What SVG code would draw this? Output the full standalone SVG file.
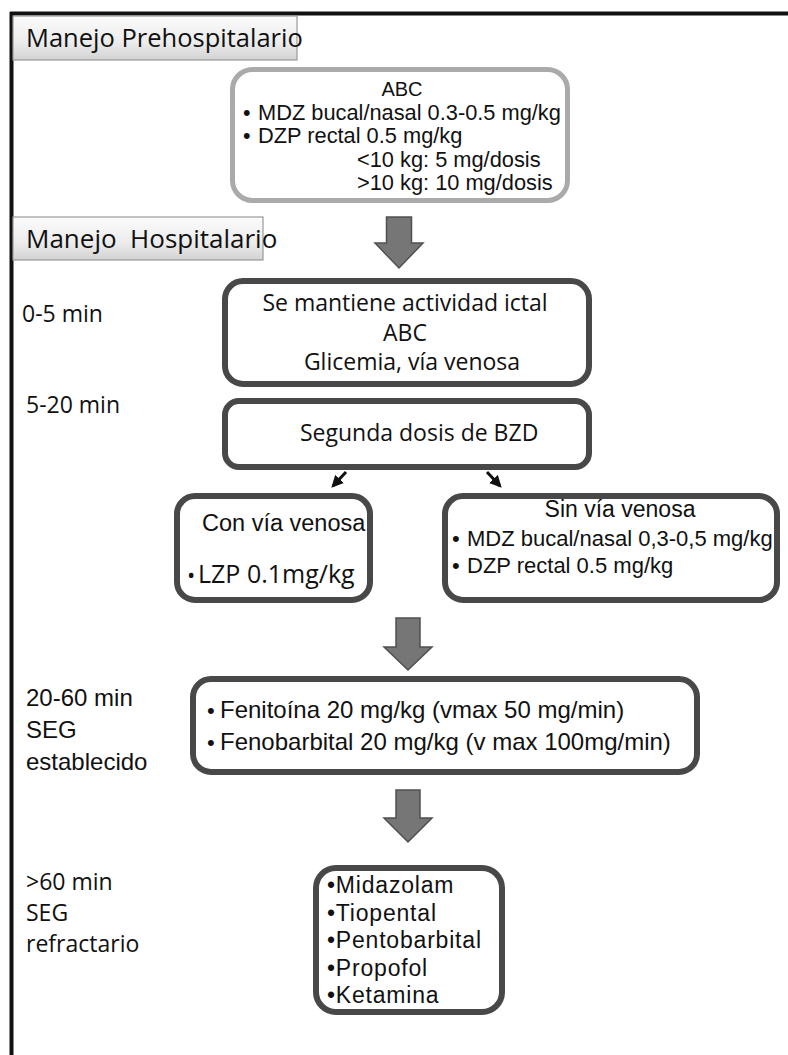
<svg xmlns="http://www.w3.org/2000/svg" width="788" height="1055" viewBox="0 0 788 1055">
<defs>
<linearGradient id="hdr" x1="0" y1="0" x2="0" y2="1">
<stop offset="0" stop-color="#fbfbfb"/>
<stop offset="0.6" stop-color="#ececec"/>
<stop offset="1" stop-color="#d2d2d2"/>
</linearGradient>
<marker id="ah" viewBox="0 0 10 10" refX="8" refY="5" markerWidth="4" markerHeight="4" orient="auto">
<path d="M0,0 L10,5 L0,10 Z" fill="#111"/>
</marker>
<style>
.frame{stroke:#111;stroke-width:4;fill:none}
.hdr{fill:url(#hdr);stroke:#9a9a9a;stroke-width:1.2}
.box{fill:#fff;stroke:#484848;stroke-width:6}
.gbox{fill:#fff;stroke:#aaaaaa;stroke-width:5}
.blk{fill:#767676;stroke:#505050;stroke-width:1.5}
.thin{stroke:#111;stroke-width:3;fill:none}
text{fill:#111}
.os{font-family:"Open Sans","Noto Sans",sans-serif}
.ls{font-family:"Liberation Sans",Arial,sans-serif}
</style>
</defs>
<rect width="788" height="1055" fill="#fff"/>
<g id="frame">
<line class="frame" x1="10" y1="13.5" x2="788" y2="13.5"/>
<line class="frame" x1="11.5" y1="12" x2="11.5" y2="1055"/>
</g>
<g id="hdr-pre">
<rect class="hdr" x="13" y="16" width="284" height="44"/>
<text class="os" x="26" y="47" font-size="25.5">Manejo Prehospitalario</text>
</g>
<g id="hdr-hosp">
<rect class="hdr" x="13" y="217" width="250" height="43"/>
<text class="os" x="26" y="248" font-size="26" xml:space="preserve">Manejo  Hospitalario</text>
</g>
<g id="times">
<text class="os" x="22" y="322" font-size="23">0-5 min</text>
<text class="os" x="26" y="413" font-size="23">5-20 min</text>
<text class="ls" x="26" y="706" font-size="24">20-60 min</text>
<text class="ls" x="26" y="738" font-size="24">SEG</text>
<text class="ls" x="26" y="770" font-size="24">establecido</text>
<text class="os" x="26" y="890" font-size="23">&gt;60 min</text>
<text class="os" x="26" y="921" font-size="23">SEG</text>
<text class="os" x="26" y="952" font-size="23">refractario</text>
</g>
<g id="connectors">
<polygon class="blk" points="386.5,217 411.5,217 411.5,243 423,243 399,268 375,243 386.5,243"/>
<line class="thin" x1="346" y1="472" x2="333" y2="486" marker-end="url(#ah)"/>
<line class="thin" x1="487" y1="472" x2="500" y2="486" marker-end="url(#ah)"/>
<polygon class="blk" points="396,618 420,618 420,647 432,647 408,670 384,647 396,647"/>
<polygon class="blk" points="396,790 420,790 420,818 432,818 408,842 384,818 396,818"/>
</g>
<g id="n-prehosp">
<rect class="gbox" x="232.5" y="69.5" width="335" height="131" rx="20"/>
<text class="ls" x="402" y="96" font-size="20" text-anchor="middle">ABC</text>
<text class="ls" x="243" y="120" font-size="21.5">•</text>
<text class="ls" x="258" y="120" font-size="21.8">MDZ bucal/nasal 0.3-0.5 mg/kg</text>
<text class="ls" x="243" y="143" font-size="21.5">•</text>
<text class="ls" x="258" y="143" font-size="21.8">DZP rectal 0.5 mg/kg</text>
<text class="ls" x="357" y="167" font-size="21.8">&lt;10 kg: 5 mg/dosis</text>
<text class="ls" x="357" y="190" font-size="21.8">&gt;10 kg: 10 mg/dosis</text>
</g>
<g id="n-ictal">
<rect class="box" x="225" y="281" width="364" height="103" rx="18"/>
<text class="os" x="405" y="311" font-size="23" text-anchor="middle">Se mantiene actividad ictal</text>
<text class="os" x="405" y="341" font-size="23" text-anchor="middle">ABC</text>
<text class="os" x="412" y="370" font-size="23" text-anchor="middle">Glicemia, vía venosa</text>
</g>
<g id="n-bzd">
<rect class="box" x="225" y="401" width="364" height="66" rx="14"/>
<text class="os" x="300" y="441" font-size="23">Segunda dosis de BZD</text>
</g>
<g id="n-con">
<rect class="box" x="177" y="496" width="193" height="104" rx="18"/>
<text class="ls" x="202" y="531" font-size="23.5">Con vía venosa</text>
<text class="os" x="187" y="583" font-size="22">•</text>
<text class="os" x="198" y="583" font-size="25">LZP 0.1mg/kg</text>
</g>
<g id="n-sin">
<rect class="box" x="445" y="496" width="332" height="104" rx="18"/>
<text class="ls" x="620" y="517" font-size="23" text-anchor="middle">Sin vía venosa</text>
<text class="ls" x="452" y="546" font-size="22">•</text>
<text class="ls" x="467" y="546" font-size="22">MDZ bucal/nasal 0,3-0,5 mg/kg</text>
<text class="ls" x="452" y="573" font-size="22">•</text>
<text class="ls" x="467" y="573" font-size="22">DZP rectal 0.5 mg/kg</text>
</g>
<g id="n-established">
<rect class="box" x="193" y="679" width="504" height="93" rx="18"/>
<text class="ls" x="207" y="718" font-size="22">•</text>
<text class="ls" x="220" y="718" font-size="24">Fenitoína 20 mg/kg (vmax 50 mg/min)</text>
<text class="ls" x="207" y="750" font-size="22">•</text>
<text class="ls" x="220" y="750" font-size="24">Fenobarbital 20 mg/kg (v max 100mg/min)</text>
</g>
<g id="n-refractory">
<rect class="box" x="316" y="868" width="186" height="144" rx="20"/>
<text class="ls" x="327" y="893" font-size="23" letter-spacing="0.8">•Midazolam</text>
<text class="ls" x="327" y="920.5" font-size="23" letter-spacing="0.8">•Tiopental</text>
<text class="ls" x="327" y="948" font-size="23" letter-spacing="0.8">•Pentobarbital</text>
<text class="ls" x="327" y="975.5" font-size="23" letter-spacing="0.8">•Propofol</text>
<text class="ls" x="327" y="1003" font-size="23" letter-spacing="0.8">•Ketamina</text>
</g>
</svg>
